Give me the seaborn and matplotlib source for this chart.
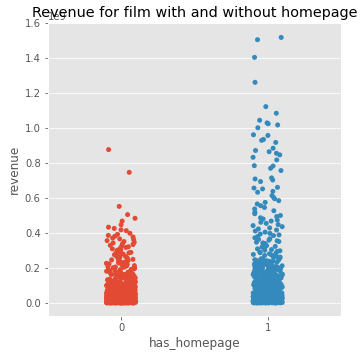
import numpy as np
import pandas as pd
import matplotlib
matplotlib.use('Agg')
import matplotlib.pyplot as plt
import seaborn as sns

# revenue in millions of USD, films without a homepage (has_homepage = 0)
revenue_no_homepage = [
    877, 747, 552, 505, 484, 468, 447, 433, 426, 418, 413,
    398, 392, 386, 381, 377, 371, 366, 362, 356, 351, 347, 343, 338, 334, 329,
    325, 321, 317, 312, 309, 305, 301, 297, 293, 289, 286, 282, 279, 275, 272,
    268, 265, 262, 258, 255, 252, 249, 246, 243, 240, 237, 234, 231, 229, 226,
    223, 221, 218, 215, 213, 210, 208, 205, 203, 201,
    198, 195, 192, 190, 187, 184, 182, 179, 176, 174, 171, 169, 166, 163, 161,
    158, 156, 153, 151, 149, 146, 144, 141, 139, 137, 134, 132, 130, 127, 125,
    123, 121, 119, 117, 115, 113, 111, 109, 107, 105, 103, 101, 99, 97, 95.5,
    94, 92, 90.5, 89, 87, 85.5, 84, 82, 80.5, 79, 77.5, 76, 74.5, 73, 71.5,
    70, 68.5, 67, 65.5, 64, 62.5, 61, 59.5, 58, 56.5, 55, 53.8, 52.5, 51.2, 50,
    48.8, 47.5, 46.3, 45, 43.8, 42.6, 41.5, 40.3, 39.2, 38, 36.9, 35.8, 34.7,
    33.6, 32.5, 31.4, 30.4, 29.3, 28.3, 27.2, 26.2, 25.2, 24.2, 23.2, 22.3,
    21.3, 20.4, 19.5, 18.6, 17.7, 16.8, 15.9, 15.1, 14.2, 13.4, 12.6, 11.8,
    11, 10.3, 9.5, 8.8, 8.1, 7.4, 6.8, 6.1, 5.5, 4.9, 4.3, 3.8, 3.2, 2.7, 2.2,
    1.8, 1.4, 1, 0.7, 0.4, 0.2, 0.05, 0.01,
    188, 172, 154, 143, 128, 116, 104, 96, 88, 81, 72, 66, 60, 54, 49, 44, 39,
    35, 31, 27.5, 24, 21, 18, 15.5, 13, 11.5, 9.8, 8.4, 7, 5.8, 4.6, 3.5, 2.5,
    1.6, 0.9, 0.3, 0.02, 57, 42, 29, 16.5, 6.4, 1.2, 0.5,
    164, 136, 108, 93, 78, 63, 51, 37, 23, 12, 3, 0.1,
    167, 159, 150, 142, 135, 129, 122, 118, 112, 106, 100, 98, 91, 86, 83, 77,
    74, 69, 65, 61, 58, 55, 52, 48, 46, 43, 40, 38, 36, 33, 30, 28, 26, 24.5,
    22.8, 21.5, 19.8, 18.2, 17, 15.7, 14.5, 13.2, 12.1, 11.2, 10.1, 9.2, 8.3,
    7.5, 6.7, 5.9, 5.1, 4.4, 3.7, 3, 2.4, 1.9, 1.3, 0.8, 0.35, 0.12, 0.03,
    157, 139, 124, 110, 97, 85, 75, 67, 59, 53, 47, 41, 34, 27, 20, 14, 8, 2,
    181, 146, 119, 94, 71, 50, 32, 19, 10.6, 4.1, 0.6, 0.04,
    162, 133, 114, 102, 89, 80, 70, 62, 56, 48.5, 44.5, 39.5, 34, 30, 25.7, 22,
    18.9, 16, 13.7, 11.4, 9.4, 7.6, 6, 4.5, 3.3, 2.3, 1.5, 0.9, 0.45, 0.15,
    0.06, 0.015, 145, 126, 111, 96.5, 84.5, 73.5, 64.5, 57.5, 50.5, 45.5, 40.8,
    36.2, 32, 28, 24.8, 21.8, 19, 16.2, 13.8, 11.6, 9.6, 7.8, 6.2, 4.7, 3.4,
    2.3, 1.4, 0.75, 0.28, 0.07,
    152, 140, 131, 120, 110, 102, 95, 87, 81, 76, 70, 65, 61, 57, 53, 49, 46,
    43, 40, 37, 35, 32, 30, 28, 26, 24, 22, 20, 18, 17, 15, 14, 12, 11, 10, 9,
    8, 7, 6, 5, 4, 3.5, 3, 2.5, 2, 1.5, 1, 0.6, 0.3, 0.1,
    118, 103, 91, 82, 74, 68, 63, 58, 54, 50, 47, 44, 41, 38, 36, 33, 31, 29,
    27, 25, 23, 21, 19.5, 18, 16.5, 15, 13.5, 12, 11, 9.8, 8.7, 7.7, 6.7, 5.8,
    4.9, 4.1, 3.4, 2.7, 2.1, 1.6, 1.1, 0.7, 0.4, 0.18, 0.06,
    132, 115, 99, 86, 79, 71, 64, 59, 55, 51, 47.5, 44, 41.2, 38.5, 35.9, 33.4,
    31.1, 28.9, 26.8, 24.8, 22.9, 21.1, 19.4, 17.8, 16.3, 14.9, 13.6, 12.3,
    11.1, 10, 9, 8, 7.1, 6.2, 5.4, 4.6, 3.9, 3.2, 2.6, 2, 1.5, 1.05, 0.66,
    0.33, 0.09, 0.02,
    126, 108, 94, 84, 76, 69, 62, 57, 52, 48, 45, 42, 39, 36.5, 34, 31.5, 29.5,
    27.5, 25.5, 23.8, 22, 20.3, 18.7, 17.2, 15.8, 14.3, 13, 11.7, 10.5, 9.4,
    8.4, 7.4, 6.5, 5.6, 4.8, 4, 3.3, 2.6, 2, 1.4, 0.9, 0.5, 0.2, 0.04,
]

# revenue in millions of USD, films with a homepage (has_homepage = 1)
revenue_homepage = [
    1519, 1506, 1405, 1262, 1123, 1085, 1045, 1030, 1025, 1018, 1002, 962,
    958, 935, 930, 918, 885, 872, 865, 856, 847, 833, 818, 785, 783, 770, 757,
    715, 709, 703, 694, 661, 657, 652, 638, 633, 614, 604, 596, 585,
    575, 566, 556, 546, 537, 527, 518, 510, 500, 494, 487, 480, 474, 468, 461,
    455, 448, 442, 436, 429, 423, 417, 411, 405,
    398, 394, 389, 385, 380, 376, 372, 367, 363, 359, 355, 351, 347, 343, 339,
    335, 331, 327, 323, 320, 316, 312, 309, 305, 301, 298, 294, 291, 287, 284,
    281, 277, 274, 271, 268, 265, 262, 259, 256, 253, 250, 247, 244, 241, 238,
    235, 233, 230, 227, 224, 222, 219, 217, 214, 212, 209, 207, 204, 202,
    199, 196, 193, 190, 188, 185, 182, 179, 177, 174, 171, 169, 166, 164, 161,
    159, 156, 154, 151, 149, 147, 144, 142, 140, 137, 135, 133, 131, 128, 126,
    124, 122, 120, 118, 116, 114, 112, 110, 108, 106, 104, 102, 100, 98, 96.5,
    94.5, 93, 91, 89.5, 87.5, 86, 84, 82.5, 81, 79, 77.5, 76, 74.5, 73, 71.5,
    70, 68.5, 67, 65.5, 64, 62.7, 61.3, 60, 58.6, 57.3, 56, 54.7, 53.4, 52.1,
    50.9, 49.6, 48.4, 47.2, 46, 44.8, 43.6, 42.5, 41.3, 40.2, 39, 37.9, 36.8,
    35.7, 34.6, 33.5, 32.5, 31.4, 30.4, 29.4, 28.4, 27.4, 26.4, 25.4, 24.5,
    23.5, 22.6, 21.7, 20.8, 19.9, 19, 18.1, 17.3, 16.4, 15.6, 14.8, 14, 13.2,
    12.4, 11.7, 10.9, 10.2, 9.5, 8.8, 8.1, 7.4, 6.8, 6.1, 5.5, 4.9, 4.3, 3.8,
    3.2, 2.7, 2.2, 1.7, 1.3, 0.9, 0.5, 0.2, 0.02,
    192, 176, 162, 148, 134, 121, 109, 99, 88, 78, 69, 59, 51, 43, 36, 29, 23,
    17.6, 12.8, 8.6, 5.2, 2.4, 0.6, 183, 153, 127, 103, 83, 63, 45, 30, 16,
    6.5, 1.5, 0.08,
    246, 237, 228, 219, 211, 203, 195, 187, 180, 173, 167, 160, 152, 146, 139,
    132, 125, 119, 113, 107, 101, 95, 90, 85, 80, 75, 71, 66, 62, 58, 54, 50,
    46.5, 43, 40, 37, 34, 31, 28, 25.8, 23.2, 21, 18.8, 16.7, 14.6, 12.7, 11,
    9.3, 7.8, 6.4, 5.1, 3.9, 2.9, 2, 1.2, 0.7, 0.3, 0.05,
    241, 223, 206, 191, 175, 158, 143, 129, 117, 105, 94, 84, 74, 65, 57, 49,
    42, 35, 28.7, 22.9, 17.9, 13.4, 9.7, 6.3, 3.6, 1.6, 0.4,
    232, 214, 197, 181, 165, 150, 136, 123, 111, 100.5, 91.5, 82, 72.5, 64.5,
    56.5, 49.2, 42.3, 36.1, 30.2, 24.9, 20.1, 15.9, 12, 8.9, 6, 3.7, 1.9, 0.7,
    0.1, 226, 201, 178, 156, 138, 121.5, 106.5, 92.5, 79.5, 68, 58, 48, 39.5,
    31.8, 25, 19.3, 14.2, 9.9, 6.6, 3.9, 1.8, 0.6, 0.03,
    218, 199, 184, 170, 157, 145, 134, 124, 115, 107, 99, 92, 85, 79, 73, 68,
    63, 58, 54, 50, 46, 42, 39, 36, 33, 30, 27, 24.5, 22, 20, 18, 16, 14, 12.5,
    11, 9.5, 8, 6.8, 5.6, 4.5, 3.5, 2.6, 1.8, 1.1, 0.6, 0.25, 0.07,
    208, 189, 172, 160, 148, 137, 127, 118, 110, 102, 95, 88, 82, 76, 71, 66,
    61, 57, 53, 49, 45.5, 42, 39, 36, 33.2, 30.6, 28, 25.6, 23.3, 21.1, 19,
    17, 15.1, 13.3, 11.6, 10, 8.5, 7.1, 5.8, 4.6, 3.5, 2.5, 1.6, 0.9, 0.35,
    0.06,
    195, 176, 161, 147, 135, 124, 114, 105, 97, 90, 83, 77, 71.5, 66.5, 62,
    57.5, 53.5, 49.5, 46, 42.5, 39.2, 36, 33, 30.2, 27.6, 25, 22.6, 20.3, 18.1,
    16, 14.1, 12.3, 10.6, 9, 7.5, 6.1, 4.8, 3.7, 2.7, 1.8, 1.1, 0.5, 0.12,
    171, 152, 138, 126, 116, 103, 93, 86, 77, 70, 64, 59, 52, 47, 42, 38, 34,
    31, 27, 24, 21, 18.5, 16, 13.5, 11.5, 9.4, 7.6, 6, 4.4, 3, 1.9, 1, 0.3,
]

has_homepage = [0] * len(revenue_no_homepage) + [1] * len(revenue_homepage)
revenue = [v * 1e6 for v in revenue_no_homepage + revenue_homepage]
train = pd.DataFrame({'has_homepage': has_homepage, 'revenue': revenue})

plt.style.use('ggplot')
np.random.seed(7)  # jitter only

fig = plt.figure(figsize=(364 / 72, 358 / 72), dpi=72)
ax = fig.add_axes([0.131, 0.117, 0.806, 0.818])
sns.stripplot(x='has_homepage', y='revenue', hue='has_homepage', data=train,
              palette=['#E24A33', '#348ABD'], legend=False, ax=ax)
ax.set_xlim(-0.5, 1.5)
ax.set_yticks(np.arange(0, 1.61e9, 0.2e9))
# fixed y keeps the title where it was, over the 1e9 offset label
ax.set_title('Revenue for film with and without homepage', y=1.0)
ax.set_xlabel('has_homepage')
ax.set_ylabel('revenue')

fig.savefig('out.png', dpi=72)
